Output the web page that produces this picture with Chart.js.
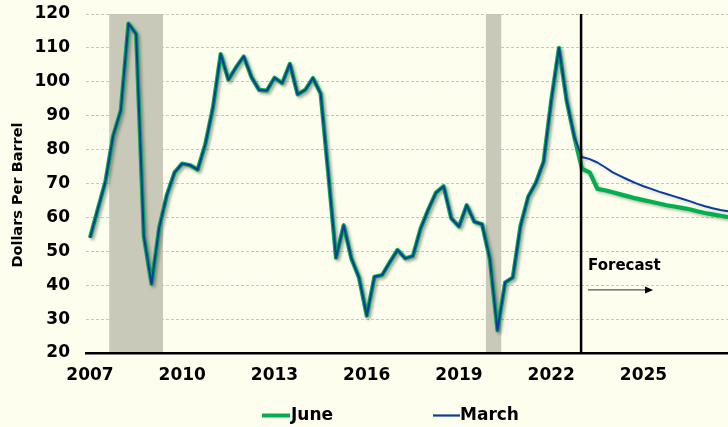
<!DOCTYPE html>
<html>
<head>
<meta charset="utf-8">
<script src="https://cdn.jsdelivr.net/npm/chart.js@4"></script>
<style>
html,body{margin:0;padding:0;background:#FEFEEF;}
canvas{display:block;}
</style>
</head>
<body>
<canvas id="c" width="728" height="427"></canvas>
<script>
// ---- data (quarterly, starting 2007 Q1) ----
const startYear = 2007;
const history = [
  54.0, 62.3, 70.5, 84.0,
  91.5, 117.2, 114.1, 54.5,
  40.4, 57.0, 66.6, 73.3,
  75.9, 75.4, 74.1, 81.6,
  92.5, 108.2, 100.6, 104.3,
  107.5, 101.4, 97.6, 97.4,
  101.2, 99.6, 105.3, 96.3,
  97.6, 101.1, 96.5, 72.8,
  48.1, 57.7, 47.9, 42.2,
  31.0, 42.5, 43.0, 46.8,
  50.4, 47.9, 48.6, 56.7,
  62.3, 67.3, 69.2, 59.7,
  57.3, 63.6, 58.7, 58.0,
  47.9, 26.7, 40.8, 42.3,
  57.5, 66.1, 70.2, 76.4,
  94.5, 110.0, 94.5, 83.7
];
const juneForecast = [74.3, 73.3, 68.4, 68.0, 67.4, 66.8, 66.2, 65.6, 65.1, 64.6, 64.1, 63.6, 63.2, 62.8, 62.4, 61.8, 61.3, 60.9, 60.5, 60.1, 59.8];
const marchForecast = [77.8, 77.2, 76.2, 74.8, 73.3, 72.2, 71.1, 70.1, 69.2, 68.4, 67.6, 66.9, 66.2, 65.5, 64.8, 64.0, 63.3, 62.7, 62.2, 61.8, 61.4];
const seriesNames = ["June", "March"];
const xTickYears = [2007, 2010, 2013, 2016, 2019, 2022, 2025];
const yTicks = [20, 30, 40, 50, 60, 70, 80, 90, 100, 110, 120];
const recessions = [[2007.625, 2009.375], [2019.875, 2020.375]];
const forecastStart = 2022.97;
const forecastLabel = "Forecast";
const yTitle = "Dollars Per Barrel";

const toPoints = arr => arr.map((v, i) => ({x: startYear + i / 4, y: v}));
const juneData = toPoints(history.concat(juneForecast));
const marchData = toPoints(history.concat(marchForecast));

const GREEN = '#00B050';
const BLUE = '#0A3C9E';
const FONT = '"DejaVu Sans", Verdana, sans-serif';

const decor = {
  id: 'decor',
  beforeDraw(chart) {
    const {ctx, chartArea: a, scales: {x}} = chart;
    ctx.save();
    ctx.fillStyle = '#FEFEEF';
    ctx.fillRect(0, 0, chart.width, chart.height);
    ctx.fillStyle = '#C9C9BA';
    recessions.forEach(([s, e]) => {
      const x0 = x.getPixelForValue(s), x1 = x.getPixelForValue(e);
      ctx.fillRect(x0, a.top, x1 - x0, a.bottom - a.top);
    });
    ctx.restore();
  },
  beforeDatasetDraw(chart, args) {
    const ctx = chart.ctx;
    ctx.save();
    ctx.shadowColor = args.index === 0 ? 'rgba(60,60,40,0.35)' : 'rgba(60,60,40,0.2)';
    ctx.shadowBlur = 3;
    ctx.shadowOffsetX = 2;
    ctx.shadowOffsetY = 2;
  },
  afterDatasetDraw(chart) {
    chart.ctx.restore();
  },
  afterDraw(chart) {
    const {ctx, chartArea: a, scales: {x, y}} = chart;
    ctx.save();
    // forecast divider
    const fx = x.getPixelForValue(forecastStart);
    ctx.strokeStyle = '#000';
    ctx.lineWidth = 2.5;
    ctx.beginPath();
    ctx.moveTo(fx, a.top);
    ctx.lineTo(fx, a.bottom);
    ctx.stroke();
    // forecast text
    ctx.fillStyle = '#000';
    ctx.font = 'bold 15px ' + FONT;
    ctx.textBaseline = 'middle';
    ctx.textAlign = 'left';
    ctx.fillText(forecastLabel, fx + 7, y.getPixelForValue(45.7));
    // arrow
    const ay = y.getPixelForValue(38.6);
    ctx.strokeStyle = '#555';
    ctx.lineWidth = 1.3;
    ctx.beginPath();
    ctx.moveTo(fx + 7, ay);
    ctx.lineTo(fx + 66, ay);
    ctx.stroke();
    ctx.fillStyle = '#000';
    ctx.beginPath();
    ctx.moveTo(fx + 72, ay);
    ctx.lineTo(fx + 64, ay - 3.5);
    ctx.lineTo(fx + 64, ay + 3.5);
    ctx.closePath();
    ctx.fill();
    // y title
    ctx.save();
    ctx.translate(18.5, 195);
    ctx.rotate(-Math.PI / 2);
    ctx.font = 'bold 14.5px ' + FONT;
    ctx.textAlign = 'center';
    ctx.textBaseline = 'middle';
    ctx.fillStyle = '#000';
    ctx.fillText(yTitle, 0, 0);
    ctx.restore();
    // legend
    const ly = 415.5;
    ctx.font = 'bold 17px ' + FONT;
    ctx.textAlign = 'left';
    ctx.textBaseline = 'middle';
    ctx.lineCap = 'butt';
    ctx.strokeStyle = GREEN; ctx.lineWidth = 4;
    ctx.beginPath(); ctx.moveTo(262, ly); ctx.lineTo(290, ly); ctx.stroke();
    ctx.fillStyle = '#000';
    ctx.fillText(seriesNames[0], 291, ly);
    ctx.strokeStyle = BLUE; ctx.lineWidth = 2.2;
    ctx.beginPath(); ctx.moveTo(433, ly); ctx.lineTo(460, ly); ctx.stroke();
    ctx.fillText(seriesNames[1], 460, ly);
    ctx.restore();
  }
};

new Chart(document.getElementById('c'), {
  type: 'line',
  data: {
    datasets: [
      {label: seriesNames[0], data: juneData, borderColor: GREEN, borderWidth: 4.2, pointRadius: 0, tension: 0, order: 1, borderJoinStyle: 'round'},
      {label: seriesNames[1], data: marchData, borderColor: BLUE, borderWidth: 2, pointRadius: 0, tension: 0, order: 0, borderJoinStyle: 'round'}
    ]
  },
  options: {
    responsive: false,
    animation: false,
    devicePixelRatio: 1,
    layout: {padding: {top: 14, left: 0, right: 0, bottom: 0}},
    plugins: {legend: {display: false}, tooltip: {enabled: false}},
    scales: {
      x: {
        type: 'linear',
        min: 2007 - 4 / 30.75,
        max: 2007 + 638 / 30.75,
        afterBuildTicks: s => { s.ticks = xTickYears.map(v => ({value: v})); },
        afterFit: s => { s.height = 74; s.paddingLeft = 0; s.paddingRight = 0; },
        grid: {display: false, drawTicks: false},
        border: {display: true, color: '#000', width: 2.5},
        ticks: {color: '#000', font: {family: FONT, size: 17, weight: 'bold'}, padding: 12, maxRotation: 0, autoSkip: false, callback: v => String(v)}
      },
      y: {
        min: 20, max: 120,
        afterBuildTicks: s => { s.ticks = yTicks.map(v => ({value: v})); },
        afterFit: s => { s.width = 86; s.paddingTop = 0; s.paddingBottom = 0; },
        grid: {color: '#C6C6BC', lineWidth: 1, drawTicks: false},
        border: {display: false, dash: [3, 2]},
        ticks: {color: '#000', font: {family: FONT, size: 17, weight: 'bold'}, padding: 16, callback: v => String(v)}
      }
    }
  },
  plugins: [decor]
});
</script>
</body>
</html>
